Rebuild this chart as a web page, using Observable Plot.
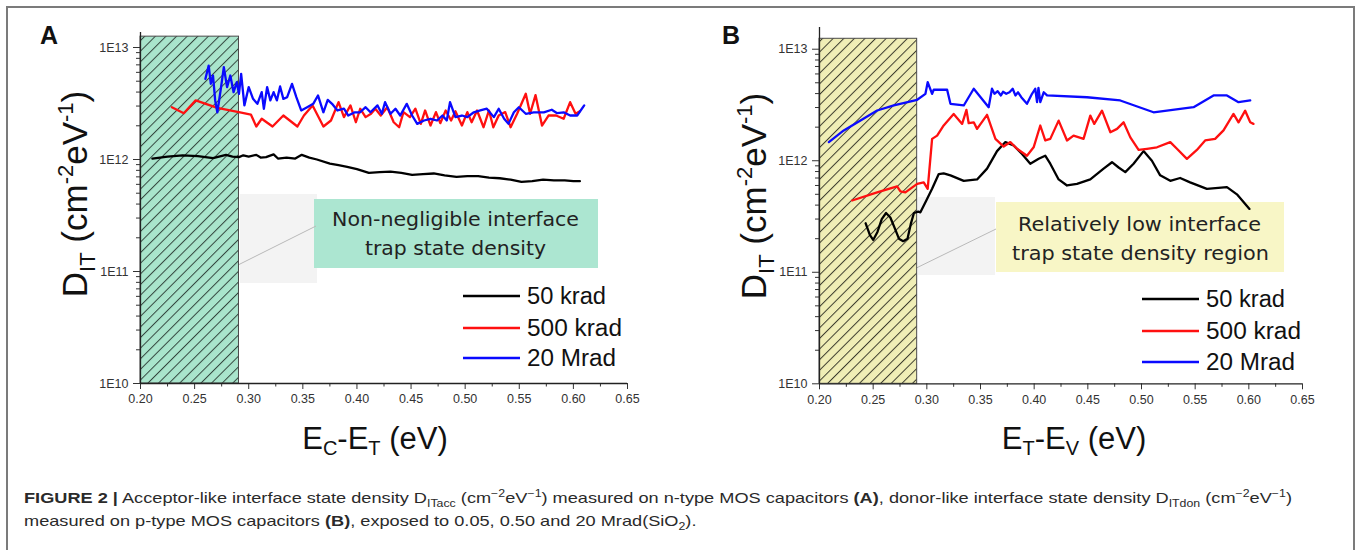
<!DOCTYPE html>
<html><head><meta charset="utf-8">
<script src="https://cdn.jsdelivr.net/npm/d3@7"></script>
<script src="https://cdn.jsdelivr.net/npm/@observablehq/plot@0.6"></script>
<style>
body{margin:0;background:#fff;}
#fig{position:relative;width:1356px;height:550px;overflow:hidden;background:#fff;font-family:"Liberation Sans",Arial,Helvetica,sans-serif;}
.abs{position:absolute;left:0;top:0;}
#cap{position:absolute;left:24px;top:487px;font-size:14.8px;line-height:23px;color:#2a2a2a;white-space:nowrap;transform-origin:0 0;}
#cap sub,#cap sup{font-size:0.68em;line-height:0;}
#cap sub{vertical-align:-0.35em}
#cap sup{vertical-align:0.55em}
</style></head><body>
<div id="fig">
 <div style="position:absolute;left:6px;top:6px;width:1349px;height:600px;border:2px solid #7b7b7b;box-sizing:border-box"></div>
 <svg id="bg" class="abs" width="1356" height="550">
  <defs>
   <pattern id="hatchA" patternUnits="userSpaceOnUse" width="7.5" height="7.5" patternTransform="rotate(45)">
    <rect width="7.5" height="7.5" fill="#a9e5cc"/>
    <line x1="0.5" y1="0" x2="0.5" y2="7.5" stroke="#34473f" stroke-width="1"/>
   </pattern>
   <pattern id="hatchB" patternUnits="userSpaceOnUse" width="7.5" height="7.5" patternTransform="rotate(45)">
    <rect width="7.5" height="7.5" fill="#f0eeb6"/>
    <line x1="0.5" y1="0" x2="0.5" y2="7.5" stroke="#3d3d2e" stroke-width="1"/>
   </pattern>
  </defs>
  <!-- annotation A -->
  <rect x="240" y="194" width="77" height="89" fill="#f3f3f3"/>
  <rect x="314" y="199" width="284" height="69" fill="#ace6d1"/>
  <line x1="224" y1="272" x2="316" y2="226" stroke="#b9b9b9" stroke-width="1"/>
  <path d="M218,274 L226,270 L225,274 Z" fill="#1d3a2c"/>
  <text x="332" y="226" font-family="DejaVu Sans, Verdana, sans-serif" font-size="19" fill="#222" textLength="247" lengthAdjust="spacingAndGlyphs">Non-negligible interface</text>
  <text x="365" y="255" font-family="DejaVu Sans, Verdana, sans-serif" font-size="19" fill="#222" textLength="181" lengthAdjust="spacingAndGlyphs">trap state density</text>
  <!-- annotation B -->
  <rect x="918" y="197" width="77" height="78" fill="#f3f3f3"/>
  <rect x="996" y="202" width="288" height="70" fill="#f8f6c6"/>
  <line x1="902" y1="275" x2="996" y2="229" stroke="#b9b9b9" stroke-width="1"/>
  <path d="M897,277 L905,273 L904,277 Z" fill="#2a2a1c"/>
  <text x="1018" y="231" font-family="DejaVu Sans, Verdana, sans-serif" font-size="19" fill="#222" textLength="243" lengthAdjust="spacingAndGlyphs">Relatively low interface</text>
  <text x="1012" y="260" font-family="DejaVu Sans, Verdana, sans-serif" font-size="19" fill="#222" textLength="257" lengthAdjust="spacingAndGlyphs">trap state density region</text>
 </svg>
 <div id="panelA" style="position:absolute;left:0;top:0"></div>
 <div id="panelB" style="position:absolute;left:680px;top:0"></div>
 <svg id="fg" class="abs" width="1356" height="550" style="pointer-events:none">
  <g font-family="Liberation Sans, Arial, sans-serif" fill="#111">
   <text x="40" y="44" font-size="25" font-weight="bold">A</text>
   <text x="722" y="44" font-size="25" font-weight="bold">B</text>
   <text transform="translate(87,194) rotate(-90)" text-anchor="middle" font-size="35">D<tspan dy="8" font-size="22">IT</tspan><tspan dy="-8"> (cm</tspan><tspan dy="-14" font-size="22">-2</tspan><tspan dy="14">eV</tspan><tspan dy="-14" font-size="22">-1</tspan><tspan dy="14">)</tspan></text>
   <text transform="translate(766,196) rotate(-90)" text-anchor="middle" font-size="35">D<tspan dy="8" font-size="22">IT</tspan><tspan dy="-8"> (cm</tspan><tspan dy="-14" font-size="22">-2</tspan><tspan dy="14">eV</tspan><tspan dy="-14" font-size="22">-1</tspan><tspan dy="14">)</tspan></text>
   <text x="375" y="449" text-anchor="middle" font-size="31">E<tspan dy="6" font-size="20">C</tspan><tspan dy="-6">-E</tspan><tspan dy="6" font-size="20">T</tspan><tspan dy="-6"> (eV)</tspan></text>
   <text x="1074" y="449" text-anchor="middle" font-size="31">E<tspan dy="6" font-size="20">T</tspan><tspan dy="-6">-E</tspan><tspan dy="6" font-size="20">V</tspan><tspan dy="-6"> (eV)</tspan></text>
  </g>
  <g id="legA" font-family="Liberation Sans, Arial, sans-serif" font-size="23" fill="#111"></g>
  <g id="legB" font-family="Liberation Sans, Arial, sans-serif" font-size="23" fill="#111"></g>
 </svg>
 <div id="cap"><div id="cap1" style="display:inline-block"><b>FIGURE 2 |</b> Acceptor-like interface state density D<sub>ITacc</sub> (cm<sup>−2</sup>eV<sup>−1</sup>) measured on n-type MOS capacitors <b>(A)</b>, donor-like interface state density D<sub>ITdon</sub> (cm<sup>−2</sup>eV<sup>−1</sup>)</div><br><div style="display:inline-block">measured on p-type MOS capacitors <b>(B)</b>, exposed to 0.05, 0.50 and 20 Mrad(SiO<sub>2</sub>).</div></div>
</div>
<script>
// ---------- data (y values in units of 1E12 cm^-2 eV^-1) ----------
const seriesNames = ["50 krad", "500 krad", "20 Mrad"];
const seriesColors = ["#000000", "#ff1010", "#0a0aff"];
const xMajorTicks = [0.20, 0.25, 0.30, 0.35, 0.40, 0.45, 0.50, 0.55, 0.60, 0.65];
const xMinorTicks = [0.225, 0.275, 0.325, 0.375, 0.425, 0.475, 0.525, 0.575, 0.625];
const yMajorTicks = [1e10, 1e11, 1e12, 1e13];
const yMinorTicks = [2e10,3e10,4e10,5e10,6e10,7e10,8e10,9e10,2e11,3e11,4e11,5e11,6e11,7e11,8e11,9e11,2e12,3e12,4e12,5e12,6e12,7e12,8e12,9e12];

// Panel A (E_C - E_T)
const aBlackX = [0.211,0.225,0.239,0.253,0.267,0.279,0.285,0.291,0.295,0.300,0.307,0.311,0.316,0.323,0.327,0.335,0.343,0.349,0.356,0.363,0.375,0.383,0.391,0.400,0.411,0.421,0.431,0.441,0.451,0.461,0.471,0.481,0.492,0.502,0.512,0.522,0.532,0.542,0.552,0.562,0.572,0.582,0.592,0.600,0.606];
const aBlackY = [1.02,1.06,1.09,1.07,1.03,1.10,1.06,1.05,1.09,1.06,1.10,1.04,1.05,1.11,1.02,1.04,1.02,1.10,1.04,1.00,0.92,0.89,0.86,0.82,0.76,0.77,0.78,0.76,0.73,0.74,0.75,0.72,0.70,0.71,0.71,0.69,0.68,0.66,0.63,0.64,0.66,0.65,0.65,0.64,0.64];
const aRedX = [0.229,0.240,0.251,0.271,0.292,0.302,0.307,0.312,0.322,0.332,0.345,0.351,0.359,0.369,0.376,0.383,0.388,0.394,0.399,0.403,0.408,0.413,0.417,0.422,0.428,0.434,0.439,0.443,0.449,0.454,0.459,0.463,0.468,0.473,0.477,0.482,0.487,0.491,0.497,0.502,0.506,0.511,0.517,0.522,0.526,0.531,0.537,0.542,0.548,0.556,0.560,0.565,0.571,0.577,0.584,0.591,0.597,0.602,0.606];
const aRedY = [2.93,2.59,3.37,2.89,2.63,2.52,1.97,2.31,1.97,2.47,1.97,2.47,3.04,1.97,2.23,3.25,2.39,3.04,2.15,2.84,2.39,2.56,2.84,2.47,2.93,2.15,1.94,2.65,2.39,2.84,2.08,2.74,2.01,2.65,2.11,2.74,2.23,2.70,2.01,2.65,2.15,2.74,1.94,2.74,1.94,2.47,2.65,1.94,2.56,3.86,2.56,3.76,2.01,2.47,2.47,2.31,3.25,2.56,2.70];
const aBlueX = [0.260,0.263,0.265,0.267,0.269,0.271,0.274,0.277,0.280,0.283,0.286,0.289,0.291,0.293,0.296,0.300,0.304,0.308,0.312,0.314,0.317,0.320,0.323,0.326,0.329,0.332,0.3355,0.340,0.344,0.3485,0.354,0.3596,0.364,0.369,0.373,0.377,0.382,0.388,0.392,0.398,0.403,0.408,0.4125,0.419,0.423,0.426,0.431,0.4356,0.440,0.446,0.451,0.4557,0.462,0.468,0.474,0.479,0.483,0.486,0.491,0.497,0.502,0.508,0.514,0.520,0.5265,0.531,0.536,0.540,0.545,0.5496,0.556,0.5634,0.5727,0.580,0.585,0.591,0.597,0.6035,0.610];
const aBlueY = [5.25,6.90,4.74,5.62,3.37,2.64,4.13,6.67,4.43,5.62,3.99,4.90,3.86,5.82,3.04,4.43,3.48,3.14,3.99,2.84,4.43,3.37,3.99,3.37,4.49,3.48,3.60,4.74,3.60,2.74,2.93,3.14,3.73,2.64,3.41,3.14,2.74,2.84,2.47,2.64,2.64,2.93,2.64,3.04,2.56,3.25,2.56,2.84,2.47,3.14,2.47,2.08,2.23,2.31,2.23,2.47,2.23,3.25,2.39,2.47,2.39,2.64,2.74,2.84,2.39,2.84,2.31,2.08,2.64,2.93,2.56,2.64,2.64,2.78,2.59,2.64,2.47,2.47,3.04];

// Panel B (E_T - E_V)
const bBlackX = [0.243,0.247,0.250,0.254,0.258,0.262,0.266,0.270,0.274,0.278,0.282,0.285,0.288,0.292,0.294,0.2987,0.3049,0.3111,0.3157,0.322,0.3344,0.3468,0.3561,0.3654,0.3732,0.3809,0.3887,0.3964,0.4042,0.4103,0.415,0.4228,0.4306,0.4399,0.4523,0.4647,0.4725,0.4787,0.4849,0.4926,0.5019,0.5097,0.5174,0.5268,0.536,0.5453,0.5609,0.5796,0.5889,0.6006];
const bBlackY = [0.275,0.215,0.195,0.23,0.30,0.34,0.31,0.25,0.20,0.19,0.20,0.27,0.34,0.35,0.345,0.425,0.56,0.76,0.77,0.74,0.66,0.68,0.85,1.22,1.47,1.37,1.15,0.94,1.04,1.11,0.94,0.68,0.60,0.62,0.68,0.85,0.97,0.87,0.79,0.94,1.22,1.00,0.74,0.66,0.70,0.64,0.56,0.58,0.50,0.37];
const bRedX = [0.2304,0.2537,0.2723,0.2754,0.280,0.291,0.2971,0.3008,0.3049,0.3096,0.3157,0.325,0.3329,0.3369,0.339,0.3437,0.3468,0.3561,0.3639,0.3716,0.3778,0.384,0.3933,0.3995,0.4057,0.4103,0.415,0.4228,0.4306,0.4367,0.446,0.4523,0.456,0.4632,0.471,0.4772,0.4833,0.4896,0.4973,0.5051,0.5144,0.5268,0.533,0.5423,0.5516,0.5593,0.5686,0.5764,0.5857,0.5904,0.5966,0.6013,0.6043];
const bRedY = [0.44,0.52,0.59,0.53,0.52,0.62,0.64,0.56,1.57,1.68,2.07,2.63,2.14,2.86,2.17,2.21,1.93,2.58,1.57,1.34,1.47,1.28,1.11,1.32,2.07,1.52,1.57,2.29,1.52,1.68,1.57,2.54,2.14,2.81,1.80,1.93,2.21,1.62,1.25,1.28,1.32,1.47,1.28,1.04,1.25,1.52,1.57,1.87,2.63,2.21,2.81,2.21,2.14];
const bBlueX = [0.2087,0.2226,0.2382,0.2537,0.2692,0.291,0.2987,0.3008,0.3049,0.3064,0.3189,0.322,0.3344,0.3437,0.3576,0.3607,0.363,0.366,0.369,0.371,0.374,0.377,0.380,0.3825,0.385,0.388,0.3933,0.398,0.401,0.4027,0.404,0.4057,0.4089,0.412,0.4492,0.4802,0.5112,0.5485,0.5671,0.5796,0.5904,0.6013];
const bBlueY = [1.47,1.87,2.29,2.82,3.13,3.52,3.98,5.06,3.98,4.33,4.33,3.24,3.13,4.42,3.02,4.42,3.98,4.20,3.85,4.15,3.98,4.11,4.42,3.85,4.11,3.71,3.24,3.98,4.42,3.35,4.50,3.35,4.11,3.85,3.71,3.47,2.72,3.02,3.85,3.85,3.35,3.47];

// shaded (hatched) energy regions
const hatchXA = [0.20, 0.291], hatchTopA = 1.25e13;
const hatchXB = [0.20, 0.291], hatchTopB = 1.24e13;

// ---------- build ----------
const unit = 1e12;
const rows = (xs, ys) => xs.map((x, i) => ({x, y: ys[i] * unit}));

function panel({series, hatchX, hatchTop, fillId, width, mL, mR, mT, mB, yTopExp}) {
  return Plot.plot({
    width, height: 420,
    marginLeft: mL, marginRight: mR, marginTop: mT, marginBottom: mB,
    x: {domain: [0.2, 0.65]},
    y: {type: "log", domain: [1e10, Math.pow(10, yTopExp)]},
    style: {background: "transparent", overflow: "visible", color: "#333",
            fontFamily: "Liberation Sans, Arial, sans-serif", fontSize: "12.5px"},
    marks: [
      Plot.rect([{x1: hatchX[0], x2: hatchX[1], y1: 1e10, y2: hatchTop}],
        {x1: "x1", x2: "x2", y1: "y1", y2: "y2", fill: `url(#${fillId})`, stroke: "#4a4a4a", strokeWidth: 1}),
      Plot.axisX({ticks: xMinorTicks, tickSize: 3.5, tickFormat: () => "", label: null}),
      Plot.axisX({ticks: xMajorTicks, tickSize: 6, tickPadding: 5, tickFormat: d => d.toFixed(2), label: null, fontSize: 12.5}),
      Plot.axisY({ticks: yMinorTicks, tickSize: 4, tickFormat: () => "", label: null}),
      Plot.axisY({ticks: yMajorTicks, tickSize: 7, tickPadding: 5, tickFormat: d => "1E" + Math.round(Math.log10(d)), label: null, fontSize: 12.5}),
      Plot.ruleX([0.2], {y1: 1e10, y2: Math.pow(10, yTopExp), stroke: "#222", strokeWidth: 1.3}),
      Plot.ruleY([1e10], {x1: 0.2, x2: 0.65, stroke: "#222", strokeWidth: 1.3}),
      ...series.map((s, i) => Plot.line(s, {x: "x", y: "y", stroke: seriesColors[i], strokeWidth: 2.3, strokeLinejoin: "round", curve: "linear"}))
    ]
  });
}

const pA = panel({
  series: [rows(aBlackX, aBlackY), rows(aRedX, aRedY), rows(aBlueX, aBlueY)],
  hatchX: hatchXA, hatchTop: hatchTopA, fillId: "hatchA",
  width: 680, mL: 140, mR: 53, mT: 32, mB: 37, yTopExp: 13 + 15/112
});
const pB = panel({
  series: [rows(bBlackX, bBlackY), rows(bRedX, bRedY), rows(bBlueX, bBlueY)],
  hatchX: hatchXB, hatchTop: hatchTopB, fillId: "hatchB",
  width: 676, mL: 139, mR: 54, mT: 27, mB: 36.7, yTopExp: 13 + 21.7/111.5
});
document.getElementById("panelA").appendChild(pA);
document.getElementById("panelB").appendChild(pB);

// legends
const ns = "http://www.w3.org/2000/svg";
function legend(gId, x0, ys, widths) {
  const g = document.getElementById(gId);
  seriesNames.forEach((name, i) => {
    const l = document.createElementNS(ns, "line");
    l.setAttribute("x1", x0); l.setAttribute("x2", x0 + 57);
    l.setAttribute("y1", ys[i]); l.setAttribute("y2", ys[i]);
    l.setAttribute("stroke", seriesColors[i]); l.setAttribute("stroke-width", 2.6);
    g.appendChild(l);
    const t = document.createElementNS(ns, "text");
    t.setAttribute("x", x0 + 64); t.setAttribute("y", ys[i] + 8);
    t.setAttribute("textLength", widths[i]); t.setAttribute("lengthAdjust", "spacingAndGlyphs");
    t.textContent = name;
    g.appendChild(t);
  });
}
legend("legA", 463, [296, 328, 358], [79, 95, 89]);
legend("legB", 1142, [299, 331, 362], [79, 95, 89]);

// caption width fit
const cap = document.getElementById("cap");
const w1 = document.getElementById("cap1").getBoundingClientRect().width;
cap.style.transform = `scaleX(${1268 / w1})`;
</script>
</body></html>
